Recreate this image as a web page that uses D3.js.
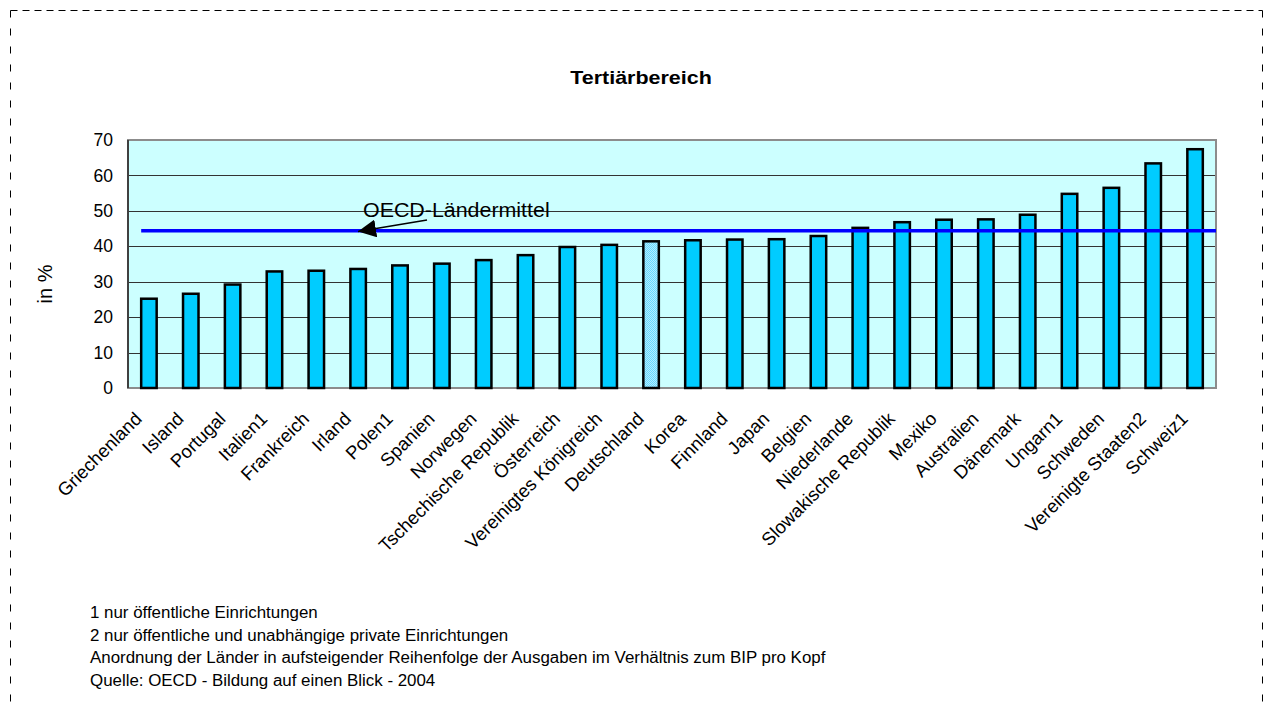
<!DOCTYPE html>
<html>
<head>
<meta charset="utf-8">
<script src="https://cdn.jsdelivr.net/npm/d3@7/dist/d3.min.js"></script>
<style>
  html, body { margin: 0; padding: 0; background: #ffffff; }
  svg { display: block; font-family: "Liberation Sans", Arial, sans-serif; }
</style>
</head>
<body>
<svg id="chart" width="1266" height="707"></svg>
<script>
// ---- data ----
const categories = ["Griechenland", "Island", "Portugal", "Italien1", "Frankreich", "Irland", "Polen1",
  "Spanien", "Norwegen", "Tschechische Republik", "Österreich", "Vereinigtes Königreich", "Deutschland",
  "Korea", "Finnland", "Japan", "Belgien", "Niederlande", "Slowakische Republik", "Mexiko", "Australien",
  "Dänemark", "Ungarn1", "Schweden", "Vereinigte Staaten2", "Schweiz1"];
const values = [25.2, 26.6, 29.2, 32.9, 33.1, 33.6, 34.6, 35.1, 36.1, 37.5, 39.8, 40.4, 41.4,
  41.7, 41.9, 42.0, 42.9, 45.2, 46.8, 47.5, 47.6, 48.9, 54.8, 56.5, 63.4, 67.4];
const highlighted = ["Deutschland"];
const yTicks = [0, 10, 20, 30, 40, 50, 60, 70];
const oecdMean = 44.4;
const oecdLabel = "OECD-Ländermittel";
const title = "Tertiärbereich";
const yLabel = "in %";
const footnotes = [
  "1 nur öffentliche Einrichtungen",
  "2 nur öffentliche und unabhängige private Einrichtungen",
  "Anordnung der Länder in aufsteigender Reihenfolge der Ausgaben im Verhältnis zum BIP pro Kopf",
  "Quelle: OECD - Bildung auf einen Blick - 2004"
];

// ---- layout ----
const svg = d3.select("#chart");
const plot = { left: 128, right: 1216, top: 140, bottom: 388 };

const x = d3.scaleBand().domain(categories).range([plot.left, plot.right])
  .paddingInner(0.63).paddingOuter(0.315);
const y = d3.scaleLinear().domain([0, 70]).range([plot.bottom, plot.top]);

// outer dashed frame
const frameL = 10.5, frameR = 1262.5, frameT = 10.5;
svg.append("line").attr("x1", frameL).attr("x2", frameR).attr("y1", frameT).attr("y2", frameT)
  .attr("stroke", "#000").attr("stroke-width", 1).attr("stroke-dasharray", "7,5");
[frameL, frameR].forEach(fx => {
  svg.append("line").attr("x1", fx).attr("x2", fx).attr("y1", frameT).attr("y2", 707)
    .attr("stroke", "#000").attr("stroke-width", 1).attr("stroke-dasharray", "7,11");
});

// pattern for highlighted bar
const defs = svg.append("defs");
const pat = defs.append("pattern").attr("id", "dots").attr("patternUnits", "userSpaceOnUse")
  .attr("width", 2).attr("height", 2);
pat.append("rect").attr("width", 2).attr("height", 2).attr("fill", "#b3ecff");
pat.append("rect").attr("width", 1).attr("height", 1).attr("fill", "#66d9ff");
pat.append("rect").attr("x", 1).attr("y", 1).attr("width", 1).attr("height", 1).attr("fill", "#66d9ff");

// plot background
svg.append("rect")
  .attr("x", plot.left).attr("y", plot.top)
  .attr("width", plot.right - plot.left).attr("height", plot.bottom - plot.top)
  .attr("fill", "#ccffff");

// gridlines
svg.append("g").selectAll("line").data(yTicks.filter(d => d > 0 && d < 70)).join("line")
  .attr("x1", plot.left).attr("x2", plot.right)
  .attr("y1", d => Math.round(y(d)) + 0.5).attr("y2", d => Math.round(y(d)) + 0.5)
  .attr("stroke", "#333").attr("stroke-width", 1);

// frame
svg.append("rect")
  .attr("x", plot.left).attr("y", plot.top)
  .attr("width", plot.right - plot.left).attr("height", plot.bottom - plot.top)
  .attr("fill", "none").attr("stroke", "#8c8c8c").attr("stroke-width", 2);
svg.append("line")
  .attr("x1", plot.left).attr("x2", plot.left).attr("y1", plot.top).attr("y2", plot.bottom)
  .attr("stroke", "#404040").attr("stroke-width", 2);

// y axis
const yAxis = d3.axisLeft(y).tickValues(yTicks).tickSize(0).tickPadding(15);
const gy = svg.append("g").attr("transform", `translate(${plot.left},0)`).call(yAxis);
gy.select(".domain").remove();
gy.selectAll("text").attr("font-size", 17.5).attr("fill", "#000")
  .attr("font-family", "'Liberation Sans', Arial, sans-serif");

// bars
svg.append("g").selectAll("rect").data(categories).join("rect")
  .attr("x", d => x(d))
  .attr("y", (d, i) => y(values[i]))
  .attr("width", x.bandwidth())
  .attr("height", (d, i) => y(0) - y(values[i]))
  .attr("fill", d => highlighted.includes(d) ? "url(#dots)" : "#00ccff")
  .attr("stroke", "#000").attr("stroke-width", 2.5);

// x labels
svg.append("g").selectAll("text").data(categories).join("text")
  .attr("transform", d => `translate(${x(d) + x.bandwidth() / 2 - 6},420) rotate(-45)`)
  .attr("text-anchor", "end")
  .attr("font-size", 18.5)
  .attr("fill", "#000")
  .text(d => d);

// OECD mean line
const firstLeft = x(categories[0]);
svg.append("line")
  .attr("x1", firstLeft).attr("x2", plot.right)
  .attr("y1", y(oecdMean)).attr("y2", y(oecdMean))
  .attr("stroke", "#0000ff").attr("stroke-width", 3.5);

// annotation
const tipX = 358, tipY = y(oecdMean) + 0.7;
defs.append("marker").attr("id", "arrow").attr("viewBox", "0 0 10 10")
  .attr("refX", 10).attr("refY", 5).attr("markerWidth", 18).attr("markerHeight", 18)
  .attr("markerUnits", "userSpaceOnUse").attr("orient", "auto")
  .append("path").attr("d", "M0,0 L10,5 L0,10 Z").attr("fill", "#000");
svg.append("line")
  .attr("x1", 427).attr("y1", 220).attr("x2", tipX).attr("y2", tipY)
  .attr("stroke", "#000").attr("stroke-width", 1.5)
  .attr("marker-end", "url(#arrow)");
svg.append("text")
  .attr("transform", "translate(363,217) scale(1.07,1)")
  .attr("font-size", 20).attr("fill", "#000")
  .text(oecdLabel);

// title
svg.append("text")
  .attr("transform", "translate(641,84) scale(1.13,1)")
  .attr("text-anchor", "middle")
  .attr("font-size", 19).attr("font-weight", "bold").attr("fill", "#000")
  .text(title);

// y label
svg.append("text")
  .attr("transform", "translate(52,284) rotate(-90)")
  .attr("text-anchor", "middle")
  .attr("font-size", 20).attr("fill", "#000")
  .text(yLabel);

// footnotes
svg.append("g").selectAll("text").data(footnotes).join("text")
  .attr("transform", (d, i) => `translate(90,${618 + i * 22.7}) scale(1.056,1)`)
  .attr("font-size", 16).attr("fill", "#000")
  .text(d => d);
</script>
</body>
</html>
